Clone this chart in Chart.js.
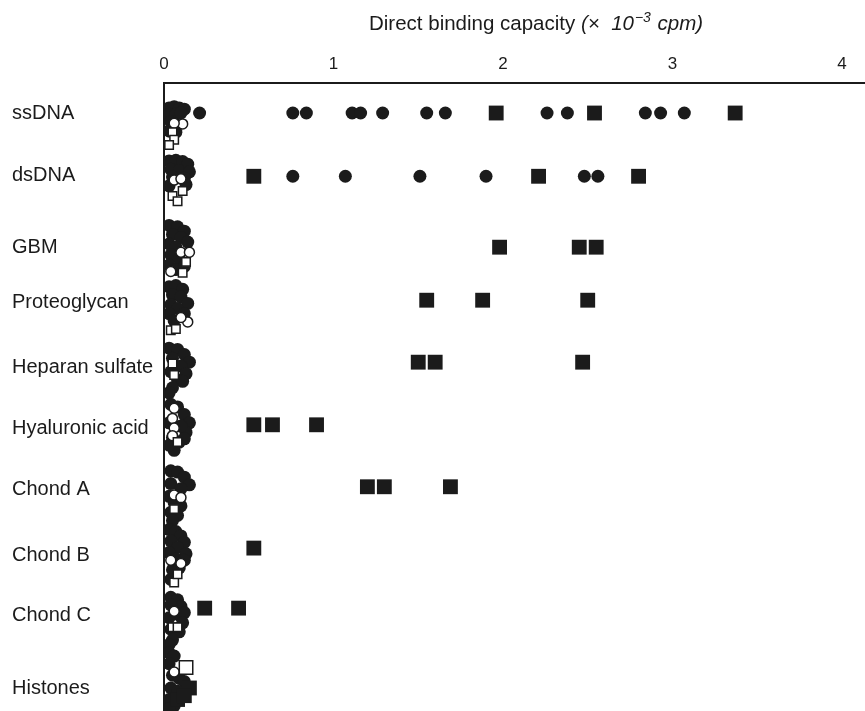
<!DOCTYPE html>
<html>
<head>
<meta charset="utf-8">
<script src="https://cdn.jsdelivr.net/npm/chart.js@4.4.0/dist/chart.umd.min.js"></script>
<style>
  html, body { margin: 0; padding: 0; background: #fff; }
  #wrap { width: 865px; height: 711px; }
</style>
</head>
<body>
<div id="wrap"><canvas id="bindingChart" width="865" height="711"></canvas></div>
<script>
// Categories (rows, top to bottom) and where their labels sit on the row scale
const categories = ['ssDNA', 'dsDNA', 'GBM', 'Proteoglycan', 'Heparan sulfate',
  'Hyaluronic acid', 'Chond A', 'Chond B', 'Chond C', 'Histones'];
const labelY = [0, 0.97, 2.10, 2.97, 3.99, 4.93, 5.90, 6.92, 7.86, 9.0];
const rowY = [0, 0.99, 2.10, 2.93, 3.90, 4.88, 5.85, 6.81, 7.75, 9.0];
const xTicks = [0, 1, 2, 3, 4];

// Binding values (x 10^-3 cpm) of the high binders, per row
const circleValues = [
  [0.21, 0.76, 0.84, 1.11, 1.16, 1.29, 1.55, 1.66, 2.26, 2.38, 2.84, 2.93, 3.07],
  [0.76, 1.07, 1.51, 1.90, 2.48, 2.56],
  [], [], [], [], [], [], [], []
];
const squareValues = [
  [1.96, 2.54, 3.37],
  [0.53, 2.21, 2.80],
  [1.98, 2.45, 2.55],
  [1.55, 1.88, 2.50],
  [1.50, 1.60, 2.47],
  [0.53, 0.64, 0.90],
  [1.20, 1.30, 1.69],
  [0.53],
  [0.24, 0.44],
  []
];

// Low binders piled up near zero: [value, row position]
const clusterFilled = [
  // ssDNA
  [0.03, -0.08], [0.06, -0.1], [0.09, -0.08], [0.12, -0.06], [0.03, 0.02], [0.07, 0.02], [0.1, 0.0],
  [0.04, 0.14], [0.03, 0.28], [0.07, 0.3],
  // dsDNA
  [0.03, 0.75], [0.07, 0.74], [0.11, 0.76], [0.14, 0.8], [0.04, 0.88], [0.09, 0.9], [0.15, 0.92],
  [0.05, 1.0], [0.12, 1.02], [0.03, 1.14], [0.13, 1.12],
  // GBM
  [0.03, 1.76], [0.08, 1.78], [0.12, 1.85], [0.05, 1.9], [0.1, 1.95], [0.14, 2.02], [0.03, 2.05],
  [0.07, 2.1], [0.04, 2.22], [0.09, 2.28], [0.03, 2.38], [0.07, 2.45], [0.12, 2.4],
  // Proteoglycan
  [0.03, 2.72], [0.07, 2.7], [0.11, 2.76], [0.05, 2.85], [0.1, 2.88], [0.14, 2.98], [0.04, 3.0],
  [0.08, 3.06], [0.12, 3.14], [0.03, 3.14], [0.06, 3.25],
  // Heparan sulfate
  [0.03, 3.68], [0.08, 3.7], [0.12, 3.78], [0.15, 3.9], [0.05, 3.84], [0.1, 3.96], [0.13, 4.08],
  [0.04, 4.05], [0.08, 4.18], [0.11, 4.2], [0.05, 4.3], [0.03, 4.38],
  // Hyaluronic acid
  [0.04, 4.56], [0.08, 4.6], [0.12, 4.72], [0.15, 4.85], [0.03, 4.85], [0.13, 5.0], [0.1, 4.9],
  [0.05, 5.08], [0.09, 5.15], [0.12, 5.1], [0.06, 5.28], [0.03, 5.2],
  // Chond A
  [0.04, 5.6], [0.08, 5.62], [0.12, 5.7], [0.15, 5.82], [0.04, 5.8], [0.1, 5.88], [0.03, 6.0],
  [0.06, 6.1], [0.1, 6.15], [0.04, 6.25], [0.08, 6.3], [0.05, 6.38],
  // Chond B
  [0.03, 6.52], [0.07, 6.55], [0.1, 6.62], [0.12, 6.72], [0.04, 6.7], [0.08, 6.8], [0.13, 6.9],
  [0.03, 6.88], [0.07, 6.98], [0.12, 7.0], [0.05, 7.15], [0.09, 7.12], [0.04, 7.3],
  // Chond C
  [0.04, 7.58], [0.08, 7.62], [0.1, 7.72], [0.04, 7.7], [0.09, 7.86], [0.12, 7.82], [0.03, 7.9],
  [0.11, 7.98], [0.04, 8.08], [0.09, 8.12], [0.05, 8.25], [0.03, 8.32],
  // Histones
  [0.03, 8.45], [0.06, 8.5], [0.03, 8.62], [0.05, 8.8], [0.09, 8.85], [0.12, 8.9], [0.04, 9.0],
  [0.08, 9.05], [0.03, 9.18], [0.06, 9.28], [0.03, 9.32]
];
const clusterSquares = [[0.15, 9.0], [0.08, 9.18], [0.12, 9.12]];
const clusterOpenCircles = [
  [0.11, 0.17], [0.06, 0.16],
  [0.06, 1.05], [0.1, 1.03],
  [0.10, 2.18], [0.15, 2.18], [0.04, 2.48],
  [0.14, 3.27], [0.1, 3.2],
  [0.06, 4.62], [0.05, 4.78], [0.06, 4.93], [0.05, 5.05],
  [0.06, 5.98], [0.1, 6.02],
  [0.04, 7.0], [0.1, 7.05],
  [0.06, 7.8],
  [0.06, 8.75]
];
const clusterOpenSquares = [
  [0.05, 0.3], [0.06, 0.42], [0.03, 0.5],
  [0.05, 1.3], [0.11, 1.22], [0.08, 1.38],
  [0.13, 2.33], [0.11, 2.5],
  [0.04, 3.4], [0.07, 3.38],
  [0.05, 3.92], [0.06, 4.1],
  [0.08, 5.15],
  [0.06, 6.2],
  [0.06, 7.35], [0.08, 7.22],
  [0.05, 8.05], [0.08, 8.05]
];
const bigOpenSquares = [[0.13, 8.68]];

const INK = '#1b1b1b';
const FONT = '"Liberation Sans", Arial, sans-serif';
const toPts = arr => arr.map(p => ({ x: p[0], y: p[1] }));

function rowPoints(values) {
  const pts = [];
  values.forEach((vals, i) => vals.forEach(v => pts.push({ x: v, y: rowY[i] })));
  return pts;
}

// no label overhang padding, the plot runs to the canvas edges
function noPadding(scale) {
  scale.paddingTop = 0;
  scale.paddingBottom = 0;
  scale.paddingLeft = 0;
  scale.paddingRight = 0;
}

// Axis title with the italic unit part and superscript
const titlePlugin = {
  id: 'axisTitle',
  afterDraw(chart) {
    const ctx = chart.ctx;
    ctx.save();
    ctx.fillStyle = INK;
    ctx.textBaseline = 'alphabetic';
    let x = 369;
    const y = 30;
    ctx.font = '20.5px ' + FONT;
    const part1 = 'Direct binding capacity ';
    ctx.fillText(part1, x, y);
    x += ctx.measureText(part1).width;
    ctx.font = 'italic 20.5px ' + FONT;
    const part2 = '(×  10';
    ctx.fillText(part2, x, y);
    x += ctx.measureText(part2).width;
    ctx.font = 'italic 14px ' + FONT;
    const sup = '−3';
    ctx.fillText(sup, x + 1, y - 8);
    x += ctx.measureText(sup).width + 2;
    ctx.font = 'italic 20.5px ' + FONT;
    ctx.fillText(' cpm)', x, y);
    ctx.restore();
  }
};

const ctx = document.getElementById('bindingChart').getContext('2d');
new Chart(ctx, {
  type: 'scatter',
  data: {
    datasets: [
      { label: 'open squares', data: toPts(clusterOpenSquares), pointStyle: 'rect', pointRadius: 6,
        backgroundColor: '#fff', borderColor: INK, pointBorderWidth: 1.5 },
      { label: 'big open squares', data: toPts(bigOpenSquares), pointStyle: 'rect', pointRadius: 9.5,
        backgroundColor: '#fff', borderColor: INK, pointBorderWidth: 1.5 },
      { label: 'open circles', data: toPts(clusterOpenCircles), pointStyle: 'circle', pointRadius: 5,
        backgroundColor: '#fff', borderColor: INK, pointBorderWidth: 1.5 },
      { label: 'squares', data: rowPoints(squareValues).concat(toPts(clusterSquares)), pointStyle: 'rect',
        pointRadius: 10.5, backgroundColor: INK, borderColor: INK, pointBorderWidth: 0 },
      { label: 'circles', data: rowPoints(circleValues).concat(toPts(clusterFilled)), pointStyle: 'circle',
        pointRadius: 6.5, backgroundColor: INK, borderColor: INK, pointBorderWidth: 0 }
    ]
  },
  options: {
    responsive: false,
    animation: false,
    events: [],
    layout: { autoPadding: false, padding: { left: 12, top: 0, right: 0, bottom: 0 } },
    plugins: { legend: { display: false }, tooltip: { enabled: false } },
    scales: {
      x: {
        type: 'linear',
        position: 'top',
        min: 0,
        max: 4.136,
        afterBuildTicks: scale => { scale.ticks = xTicks.map(v => ({ value: v })); },
        afterFit: scale => { scale.height = 83; noPadding(scale); },
        grid: { display: false, drawTicks: false },
        border: { display: true, color: INK, width: 2 },
        ticks: { color: INK, padding: 8, font: { family: FONT, size: 17 } }
      },
      y: {
        type: 'linear',
        position: 'left',
        reverse: true,
        min: -0.47,
        max: 9.36,
        afterBuildTicks: scale => { scale.ticks = labelY.map(v => ({ value: v })); },
        afterFit: scale => { scale.width = 152; noPadding(scale); },
        grid: { display: false, drawTicks: false },
        border: { display: true, color: INK, width: 2 },
        ticks: {
          color: INK,
          crossAlign: 'far',
          font: { family: FONT, size: 20 },
          callback: (value, index) => categories[index]
        }
      }
    }
  },
  plugins: [titlePlugin]
});
</script>
</body>
</html>
